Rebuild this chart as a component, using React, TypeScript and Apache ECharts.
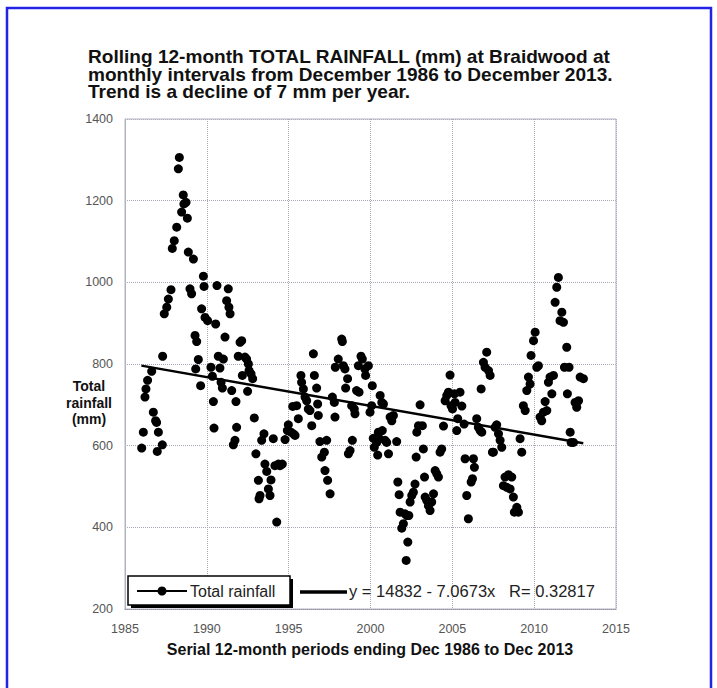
import React, { useEffect, useRef } from "react";
import * as echarts from "echarts";

// Period positions (decimal years) and rolling 12-month rainfall (mm)
const period: number[] = [
  1986.02, 1986.12, 1986.22, 1986.28, 1986.38, 1986.63, 1986.73, 1986.87, 1986.93, 1986.97,
  1987.04, 1987.28, 1987.3, 1987.4, 1987.55, 1987.65, 1987.81, 1987.89, 1988.01, 1988.16,
  1988.26, 1988.32, 1988.46, 1988.56, 1988.6, 1988.73, 1988.81, 1988.87, 1988.97, 1989.07,
  1989.18, 1989.28, 1989.32, 1989.38, 1989.48, 1989.62, 1989.68, 1989.79, 1989.83, 1989.89,
  1990.05, 1990.25, 1990.34, 1990.4, 1990.44, 1990.54, 1990.62, 1990.7, 1990.8, 1990.87,
  1990.95, 1991.01, 1991.11, 1991.21, 1991.31, 1991.35, 1991.42, 1991.52, 1991.62, 1991.72,
  1991.78, 1991.82, 1991.92, 1992.03, 1992.13, 1992.17, 1992.33, 1992.43, 1992.49, 1992.54,
  1992.58, 1992.7, 1992.8, 1992.9, 1993.0, 1993.15, 1993.19, 1993.25, 1993.35, 1993.49,
  1993.55, 1993.66, 1993.76, 1993.86, 1993.92, 1994.06, 1994.16, 1994.27, 1994.37, 1994.47,
  1994.61, 1994.78, 1994.92, 1994.98, 1995.14, 1995.25, 1995.29, 1995.39, 1995.49, 1995.59,
  1995.75, 1995.79, 1995.9, 1996.0, 1996.1, 1996.2, 1996.3, 1996.41, 1996.51, 1996.57,
  1996.71, 1996.77, 1996.81, 1996.91, 1997.02, 1997.18, 1997.22, 1997.32, 1997.38, 1997.53,
  1997.67, 1997.79, 1997.83, 1997.85, 1998.03, 1998.24, 1998.28, 1998.34, 1998.44, 1998.48,
  1998.6, 1998.65, 1998.75, 1998.85, 1998.89, 1999.01, 1999.05, 1999.15, 1999.26, 1999.3,
  1999.42, 1999.5, 1999.66, 1999.7, 1999.87, 1999.97, 2000.07, 2000.11, 2000.17, 2000.23,
  2000.38, 2000.44, 2000.48, 2000.55, 2000.59, 2000.69, 2000.72, 2000.79, 2000.89, 2000.99,
  2001.1, 2001.2, 2001.3, 2001.4, 2001.6, 2001.67, 2001.75, 2001.81, 2001.91, 2002.01,
  2002.11, 2002.18, 2002.22, 2002.28, 2002.34, 2002.42, 2002.52, 2002.62, 2002.72, 2002.79,
  2002.83, 2002.93, 2003.03, 2003.17, 2003.23, 2003.3, 2003.34, 2003.44, 2003.54, 2003.64,
  2003.74, 2003.85, 2003.95, 2004.05, 2004.15, 2004.25, 2004.35, 2004.46, 2004.56, 2004.66,
  2004.76, 2004.86, 2004.92, 2005.01, 2005.13, 2005.17, 2005.27, 2005.33, 2005.47, 2005.58,
  2005.72, 2005.78, 2005.88, 2005.98, 2006.15, 2006.23, 2006.29, 2006.35, 2006.49, 2006.59,
  2006.7, 2006.76, 2006.8, 2006.9, 2007.0, 2007.1, 2007.21, 2007.31, 2007.45, 2007.51,
  2007.61, 2007.71, 2007.82, 2007.92, 2008.02, 2008.12, 2008.22, 2008.33, 2008.43, 2008.53,
  2008.63, 2008.73, 2008.79, 2008.94, 2009.04, 2009.14, 2009.24, 2009.34, 2009.45, 2009.55,
  2009.65, 2009.75, 2009.81, 2009.96, 2010.06, 2010.16, 2010.26, 2010.36, 2010.46, 2010.57,
  2010.67, 2010.77, 2010.87, 2010.97, 2011.08, 2011.18, 2011.28, 2011.38, 2011.48, 2011.58,
  2011.69, 2011.79, 2011.85, 2011.99, 2012.03, 2012.13, 2012.2, 2012.26, 2012.4, 2012.5,
  2012.6, 2012.71, 2012.81, 2013.01,
];

const rainfall: number[] = [
  594, 633, 719, 739, 760, 782, 682, 661, 657, 586,
  633, 602, 819, 923, 939, 959, 982, 1083, 1102, 1135,
  1278, 1306, 1172, 1214, 1192, 1196, 1157, 1074, 984, 972,
  1057, 870, 788, 855, 811, 747, 935, 1015, 990, 914,
  906, 792, 770, 708, 643, 898, 992, 819, 790, 755,
  741, 812, 866, 955, 984, 939, 923, 735, 602, 613,
  708, 645, 819, 853, 857, 772, 817, 812, 733, 800,
  784, 776, 764, 668, 580, 515, 470, 478, 613, 629,
  555, 537, 494, 478, 516, 617, 551, 413, 555, 551,
  555, 615, 637, 651, 633, 696, 629, 625, 698, 666,
  772, 755, 739, 719, 710, 690, 686, 649, 825, 772,
  741, 702, 674, 610, 572, 584, 539, 613, 515, 482,
  719, 706, 670, 792, 812, 861, 855, 796, 788, 741,
  764, 580, 588, 698, 613, 690, 678, 735, 796, 731,
  819, 812, 788, 772, 796, 682, 698, 747, 618, 596,
  608, 577, 633, 617, 723, 706, 637, 702, 613, 608,
  580, 670, 661, 674, 610, 511, 480, 437, 398, 409,
  433, 319, 429, 364, 429, 462, 478, 486, 506, 572,
  633, 649, 700, 649, 592, 523, 474, 466, 453, 441,
  462, 482, 539, 531, 523, 584, 592, 648, 710, 723,
  731, 773, 698, 690, 727, 706, 637, 666, 731, 697,
  653, 568, 478, 421, 511, 519, 568, 547, 666, 645,
  637, 739, 633, 804, 792, 829, 784, 772, 584, 584,
  645, 651, 629, 613, 596, 502, 523, 498, 529, 494,
  523, 474, 437, 449, 437, 617, 584, 698, 686, 735,
  768, 751, 821, 857, 878, 792, 796, 670, 661, 682,
  708, 686, 755, 768, 727, 772, 951, 988, 1012, 906,
  927, 902, 792, 841, 727, 792, 633, 608, 608, 706,
  694, 710, 768, 764,
];

// Trend line endpoints (y = 14832 - 7.0673x), read at 1986 and 2013
const trendYears: number[] = [1986, 2013];
const trendValues: number[] = [796, 606];

const xTicks = { min: 1985, max: 2015, interval: 5 };
const yTicks = { min: 200, max: 1400, interval: 200 };

const titleLines: string[] = [
  "Rolling 12-month TOTAL RAINFALL (mm) at Braidwood at",
  "monthly intervals from December 1986 to December 2013.",
  "Trend is a decline of 7 mm per year.",
];
const xName = "Serial 12-month periods ending Dec 1986 to Dec 2013";
const yNameLines: string[] = ["Total", "rainfall", "(mm)"];
const legendSeries = "Total rainfall";
const legendTrend = "y = 14832 - 7.0673x   R= 0.32817";

const FONT = '"Liberation Sans", Arial, Helvetica, sans-serif';

export default function App() {
  const ref = useRef<HTMLDivElement>(null);
  useEffect(() => {
    if (!ref.current) return;
    const chart = echarts.init(ref.current, undefined, { renderer: "svg" });
    const scatterData = period.map((p, i) => [p, rainfall[i]]);
    const trendData = trendYears.map((t, i) => [t, trendValues[i]]);

    const titleEls = titleLines.map((line, i) => ({
      type: "text",
      x: 88,
      y: 57 + i * 17.5,
      scaleX: 1.09,
      style: {
        text: line,
        font: `bold 17.5px ${FONT}`,
        fill: "#111",
        align: "left",
        verticalAlign: "middle",
      },
    }));
    const yNameEls = yNameLines.map((line, i) => ({
      type: "text",
      x: 89,
      y: 386 + i * 16.5,
      style: {
        text: line,
        font: `bold 14px ${FONT}`,
        fill: "#111",
        align: "center",
        verticalAlign: "middle",
      },
    }));

    chart.setOption({
      animation: false,
      backgroundColor: "#ffffff",
      grid: { left: 125, right: 101, top: 119, bottom: 79, containLabel: false },
      xAxis: {
        type: "value",
        min: xTicks.min,
        max: xTicks.max,
        interval: xTicks.interval,
        axisLine: { show: true, lineStyle: { color: "#777", width: 1, type: "dotted" } },
        axisTick: { show: false },
        axisLabel: {
          color: "#555",
          fontSize: 12.5,
          fontFamily: FONT,
          margin: 13,
          formatter: (v: number) => String(v),
        },
        splitLine: { show: true, lineStyle: { color: "#a8a8b8", type: "dotted", width: 1 } },
      },
      yAxis: {
        type: "value",
        min: yTicks.min,
        max: yTicks.max,
        interval: yTicks.interval,
        axisLine: { show: true, lineStyle: { color: "#b0b0b8", width: 1 } },
        axisTick: { show: false },
        axisLabel: {
          color: "#555",
          fontSize: 12.5,
          fontFamily: FONT,
          margin: 12,
          formatter: (v: number) => String(v),
        },
        splitLine: { show: true, lineStyle: { color: "#a8a8b8", type: "dotted", width: 1 } },
      },
      series: [
        {
          type: "scatter",
          name: legendSeries,
          data: scatterData,
          symbol: "circle",
          symbolSize: 9,
          itemStyle: { color: "#000", opacity: 1 },
          z: 3,
        },
        {
          type: "line",
          name: "Trend",
          data: trendData,
          symbol: "none",
          lineStyle: { color: "#000", width: 2.5 },
          z: 4,
        },
      ],
      graphic: [
        {
          type: "rect",
          shape: { x: 7, y: 8, width: 704, height: 700 },
          style: { fill: "none", stroke: "#2323e6", lineWidth: 2.5 },
          silent: true,
        },
        {
          type: "rect",
          shape: { x: 125, y: 119, width: 491, height: 490 },
          style: { fill: "none", stroke: "#b4b4c4", lineWidth: 1 },
          silent: true,
          z: 1,
        },
        ...titleEls,
        ...yNameEls,
        {
          type: "text",
          x: 370,
          y: 649,
          style: {
            text: xName,
            font: `bold 16px ${FONT}`,
            fill: "#111",
            align: "center",
            verticalAlign: "middle",
          },
        },
        {
          type: "rect",
          z: 10,
          shape: { x: 131, y: 579, width: 162, height: 29 },
          style: { fill: "#000" },
        },
        {
          type: "rect",
          z: 11,
          shape: { x: 128, y: 576, width: 162, height: 29 },
          style: { fill: "#fff", stroke: "#000", lineWidth: 1.5 },
        },
        {
          type: "line",
          z: 12,
          shape: { x1: 137, y1: 591, x2: 187, y2: 591 },
          style: { stroke: "#000", lineWidth: 2 },
        },
        {
          type: "circle",
          z: 12,
          shape: { cx: 162, cy: 591, r: 4.5 },
          style: { fill: "#000" },
        },
        {
          type: "text",
          z: 12,
          x: 190,
          y: 591,
          style: {
            text: legendSeries,
            font: `16px ${FONT}`,
            fill: "#222",
            align: "left",
            verticalAlign: "middle",
          },
        },
        {
          type: "line",
          z: 12,
          shape: { x1: 300, y1: 592, x2: 347, y2: 592 },
          style: { stroke: "#000", lineWidth: 3.5 },
        },
        {
          type: "text",
          z: 12,
          x: 349,
          y: 591,
          style: {
            text: legendTrend,
            font: `16.5px ${FONT}`,
            fill: "#222",
            align: "left",
            verticalAlign: "middle",
          },
        },
      ],
    });
    return () => chart.dispose();
  }, []);
  return (
    <div
      ref={ref}
      style={{ position: "absolute", left: 0, top: 0, width: 717, height: 688 }}
    />
  );
}
